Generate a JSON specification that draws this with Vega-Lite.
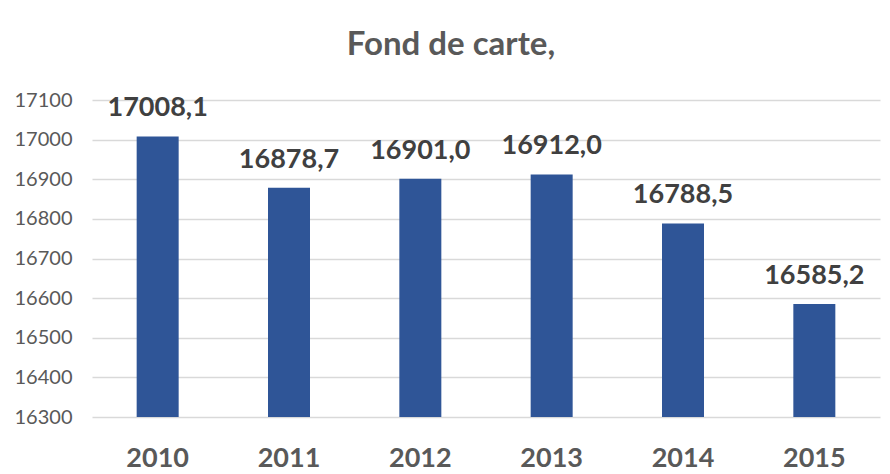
{
  "$schema": "https://vega.github.io/schema/vega-lite/v6.json",
  "width": 788,
  "height": 317,
  "autosize": {"type": "none"},
  "padding": {"left": 92, "top": 100, "right": 10, "bottom": 57},
  "background": "white",
  "config": {
    "locale": {"number": {"decimal": ",", "thousands": "", "grouping": [3], "currency": ["", ""]}},
    "view": {"stroke": null},
    "font": "Lato"
  },
  "title": {
    "text": "Fond de carte,",
    "font": "Lato",
    "fontSize": 33,
    "fontWeight": "bold",
    "color": "#595959",
    "anchor": "middle",
    "dx": -35,
    "offset": 28
  },
  "data": {
    "values": [
      {"year": "2010", "value": 17008.1},
      {"year": "2011", "value": 16878.7},
      {"year": "2012", "value": 16901.0},
      {"year": "2013", "value": 16912.0},
      {"year": "2014", "value": 16788.5},
      {"year": "2015", "value": 16585.2}
    ]
  },
  "encoding": {
    "x": {
      "field": "year",
      "type": "nominal",
      "scale": {"paddingInner": 0, "paddingOuter": 0},
      "axis": {
        "title": null,
        "labelAngle": 0,
        "labelFont": "Lato",
        "labelFontSize": 27,
        "labelFontWeight": "bold",
        "labelColor": "#595959",
        "labelPadding": 28,
        "ticks": false,
        "domain": false,
        "grid": false
      }
    },
    "y": {
      "field": "value",
      "type": "quantitative",
      "scale": {"domain": [16300, 17100], "zero": false, "nice": false},
      "axis": {
        "title": null,
        "values": [16300, 16400, 16500, 16600, 16700, 16800, 16900, 17000, 17100],
        "format": "d",
        "labelFont": "Lato",
        "labelFontSize": 20,
        "labelColor": "#595959",
        "labelPadding": 20,
        "ticks": false,
        "domain": false,
        "gridColor": "#d9d9d9",
        "gridWidth": 1.5
      }
    }
  },
  "layer": [
    {
      "mark": {"type": "bar", "size": 42, "color": "#2F5597", "clip": true}
    },
    {
      "mark": {"type": "text", "baseline": "bottom", "dy": -14, "font": "Lato", "fontSize": 27, "fontWeight": "bold", "color": "#404040"},
      "encoding": {
        "text": {"field": "value", "type": "quantitative", "format": ".1f"}
      }
    }
  ]
}
